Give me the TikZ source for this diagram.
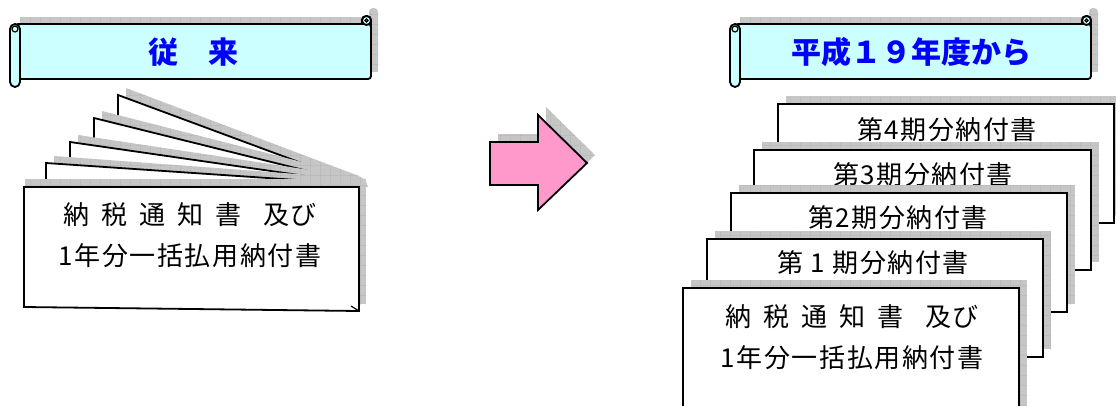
\documentclass[tikz,border=0pt]{standalone}
\usepackage{fontspec}
\usetikzlibrary{patterns.meta}
\newfontfamily\jp{Noto Sans CJK JP}
\newfontfamily\jpls[LetterSpace=6]{Noto Sans CJK JP}
\definecolor{bannerfill}{RGB}{204,255,255}
\definecolor{arrowpink}{RGB}{255,153,204}
\definecolor{titleblue}{RGB}{0,0,255}
\tikzdeclarepattern{
  name=shgrid,
  type=uncolored,
  bounding box={(0,0) and (10pt,10pt)},
  tile size={(10pt,10pt)},
  code={\draw[line width=0.7pt] (0,0) -- (10pt,0) (0,0) -- (0,10pt);}
}
\tikzset{
  shadowfill/.style={fill=gray!45, postaction={pattern=shgrid, pattern color=gray!65}},
  outline/.style={draw=black, line width=1.8pt, line join=miter},
  sheet/.style={outline, fill=white},
  titletext/.style={font=\jp\bfseries\fontsize{30}{34}\selectfont, text=titleblue, inner sep=0},
  bodytext/.style={font=\jpls\fontsize{26}{30}\selectfont, inner sep=0},
}
\newcommand\bannershape[1]{%
  \begin{scope}[shift={(#1,0)}]
    \fill[shadowfill] (20,17) rectangle (378,72);
    \fill[shadowfill, rounded corners=4] (369,8) rectangle (378,72);
    \draw[outline, fill=bannerfill, rounded corners=4] (362,16) rectangle (371,79);
    \draw[outline, fill=bannerfill, rounded corners=3] (15,24) -- (371,24) -- (371,79) -- (15,79) -- cycle;
    \draw[outline, fill=bannerfill] (366.5,20.5) circle (4.5);
    \draw[line width=1.2pt] (366.5,20.5) circle (1.5);
    \draw[outline, fill=bannerfill, rounded corners=5] (10,24) rectangle (20,87);
    \draw[line width=1.2pt] (15,29) circle (3);
  \end{scope}}
\newcommand\notice{納\hspace{12pt}税\hspace{12pt}通\hspace{12pt}知\hspace{12pt}書\hspace{22pt}及び}
\begin{document}
\begin{tikzpicture}[x=1pt,y=-1pt]
\useasboundingbox (0,0) rectangle (1116,405);
% ---------- banners ----------
\bannershape{0}
\node[titletext] (t1) at (193,52) {従　来};
\bannershape{720}
\node[titletext] (t2) at (911,52) {平成１９年度から};
% ---------- left fan ----------
\foreach \x/\y/\rx/\ry in {118/95/350/181, 94/118/352/182, 70/142/354/183, 46/163/356/184}{
  \fill[shadowfill] (\x+8,187) -- (\x+8,\y-7) -- (\rx+9,\ry-5) -- (\rx+12,187) -- cycle;
  \fill[white] (\x,187) -- (\x,\y) -- (\rx,\ry) -- (\rx+6,187) -- cycle;
  \draw[outline] (\x,187) -- (\x,\y) -- (\rx,\ry);
}
\fill[shadowfill] (25,179) rectangle (366,304);
\draw[sheet] (24,187) -- (359,187) -- (359,311) -- (24,307) -- cycle;
\draw[line width=1.2pt] (351,306) -- (359,311);
\node[bodytext] (l1) at (190,215) {\notice};
\node[bodytext] (l2) at (190,256) {1年分一括払用納付書};
% ---------- arrow ----------
\fill[shadowfill] (498,134) -- (546,134) -- (546,107) -- (595,155) -- (546,202) -- (546,177) -- (498,177) -- cycle;
\draw[outline, fill=arrowpink] (490,142) -- (538,142) -- (538,115) -- (587,163) -- (538,210) -- (538,185) -- (490,185) -- cycle;
% ---------- right stack ----------
\fill[shadowfill] (786,96) rectangle (1122,215);
\draw[sheet] (778,104) rectangle (1114,223);
\node[bodytext] (r4) at (947,130) {第4期分納付書};
\fill[shadowfill] (762,142) rectangle (1099,262);
\draw[sheet] (754,150) rectangle (1091,270);
\node[bodytext] (r3) at (923,175) {第3期分納付書};
\fill[shadowfill] (739,185) rectangle (1075,304);
\draw[sheet] (731,193) rectangle (1067,312);
\node[bodytext] (r2) at (898,218) {第2期分納付書};
\fill[shadowfill] (715,231) rectangle (1051,349);
\draw[sheet] (707,239) rectangle (1043,357);
\node[bodytext] (r1) at (873,263) {第 1 期分納付書};
\fill[shadowfill] (691,280) rectangle (1027,412);
\draw[sheet] (683,412) -- (683,288) -- (1019,288) -- (1019,412);
\node[bodytext] (f1) at (852,317) {\notice};
\node[bodytext] (f2) at (852,358) {1年分一括払用納付書};
\end{tikzpicture}
\end{document}
